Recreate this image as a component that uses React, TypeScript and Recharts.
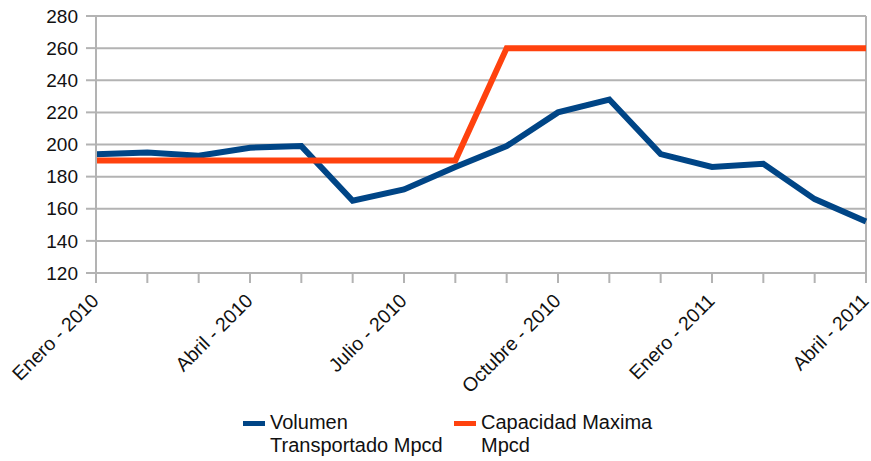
import { LineChart, Line, XAxis, YAxis, CartesianGrid, ReferenceLine } from "recharts";

const meses = [
  "Enero - 2010", "Febrero - 2010", "Marzo - 2010", "Abril - 2010",
  "Mayo - 2010", "Junio - 2010", "Julio - 2010", "Agosto - 2010",
  "Septiembre - 2010", "Octubre - 2010", "Noviembre - 2010", "Diciembre - 2010",
  "Enero - 2011", "Febrero - 2011", "Marzo - 2011", "Abril - 2011",
];
const volumen = [194, 195, 193, 198, 199, 165, 172, 186, 199, 220, 228, 194, 186, 188, 166, 152];
const capacidad = [190, 190, 190, 190, 190, 190, 190, 190, 260, 260, 260, 260, 260, 260, 260, 260];
const yTicks = [120, 140, 160, 180, 200, 220, 240, 260, 280];

const data = meses.map((mes, i) => ({ mes, volumen: volumen[i], capacidad: capacidad[i] }));

const FONT = "'Liberation Sans', Arial, sans-serif";
const BLUE = "#004586";
const ORANGE = "#ff420e";
const GRID = "#b3b3b3";

// solo se rotula un mes de cada tres
const MonthTick = (props: any) => {
  const { x, y, payload, index } = props;
  if (index % 3 !== 0) return null;
  const px = x + 4;
  const py = y + 17;
  return (
    <text
      x={px}
      y={py}
      textAnchor="end"
      fontSize={19.5}
      fontFamily={FONT}
      fill="#111"
      transform={`rotate(-45, ${px}, ${py})`}
    >
      {payload.value}
    </text>
  );
};

const LegendItem = ({ color, lines, left }: { color: string; lines: string[]; left: number }) => (
  <div style={{ position: "absolute", left, top: 411, display: "flex", alignItems: "flex-start" }}>
    <div style={{ width: 22, height: 5, background: color, marginTop: 10, marginRight: 5 }} />
    <div style={{ fontFamily: FONT, fontSize: 20, lineHeight: "23px", color: "#111", whiteSpace: "nowrap" }}>
      {lines.map((l) => (
        <div key={l}>{l}</div>
      ))}
    </div>
  </div>
);

export default function App() {
  return (
    <div style={{ position: "absolute", left: 0, top: 0, width: 871, height: 461, background: "#fff", overflow: "hidden" }}>
      <LineChart
        width={871}
        height={461}
        data={data}
        margin={{ top: 16, right: 5, bottom: 0, left: 0 }}
      >
        <CartesianGrid vertical={false} stroke={GRID} strokeWidth={2} />
        <XAxis
          dataKey="mes"
          interval={0}
          tick={<MonthTick />}
          tickSize={10}
          tickMargin={2}
          stroke={GRID}
          strokeWidth={2}
          height={188}
          padding={{ left: 0, right: 0 }}
        />
        <YAxis
          domain={[120, 280]}
          ticks={yTicks}
          interval={0}
          width={96}
          tickSize={10}
          tickMargin={8}
          stroke={GRID}
          strokeWidth={2}
          tick={{ fill: "#111", fontSize: 19, fontFamily: FONT }}
        />
        <ReferenceLine x={meses[meses.length - 1]} stroke={GRID} strokeWidth={2} />
        <Line
          dataKey="volumen"
          stroke={BLUE}
          strokeWidth={6}
          dot={false}
          isAnimationActive={false}
          strokeLinejoin="miter"
        />
        <Line
          dataKey="capacidad"
          stroke={ORANGE}
          strokeWidth={6}
          dot={false}
          isAnimationActive={false}
          strokeLinejoin="miter"
        />
      </LineChart>
      <LegendItem color={BLUE} lines={["Volumen", "Transportado Mpcd"]} left={243} />
      <LegendItem color={ORANGE} lines={["Capacidad Maxima", "Mpcd"]} left={454} />
    </div>
  );
}
